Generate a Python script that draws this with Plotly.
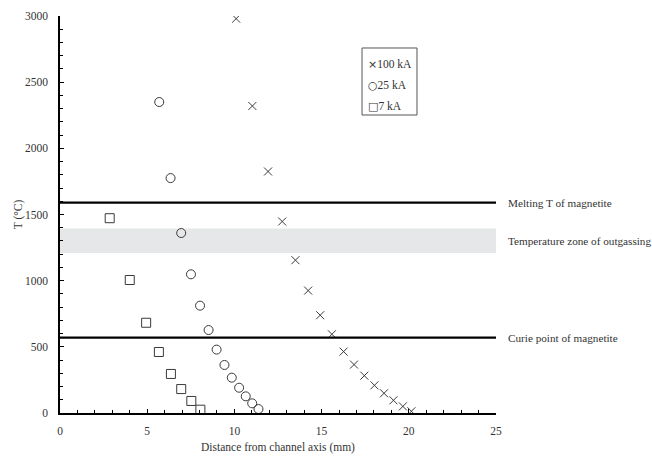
import plotly.graph_objects as go

# 100 kA series
x_100 = [10.1, 11.03, 11.93, 12.74, 13.5, 14.23, 14.92, 15.59, 16.26, 16.86, 17.45, 18.03, 18.58, 19.12, 19.66, 20.15]
t_100 = [2980, 2320, 1825, 1447, 1155, 925, 739, 595, 464, 366, 282, 209, 149, 96, 50, 13]

# 25 kA series
x_25 = [5.69, 6.34, 6.95, 7.51, 8.03, 8.52, 8.98, 9.43, 9.85, 10.27, 10.65, 11.02, 11.38]
t_25 = [2350, 1775, 1360, 1048, 811, 627, 479, 363, 267, 191, 126, 73, 30]

# 7 kA series
x_7 = [2.85, 4.0, 4.94, 5.67, 6.36, 6.95, 7.53, 8.05]
t_7 = [1472, 1005, 682, 461, 295, 181, 91, 25]

series_names = ["100 kA", "25 kA", "7 kA"]
legend_glyphs = ["\u00d7", "\u25cb", "\u25a1"]

MELTING_T = 1590
CURIE_T = 570
OUTGAS_LOW = 1210
OUTGAS_HIGH = 1395

FONT = "Liberation Serif"
TXT = "#333333"
MK = "#3a3a3a"

fig = go.Figure()
fig.add_trace(go.Scatter(x=x_100, y=t_100, mode="markers", name=series_names[0],
                         marker=dict(symbol="x-thin", size=8, line=dict(color=MK, width=1), color=MK)))
fig.add_trace(go.Scatter(x=x_25, y=t_25, mode="markers", name=series_names[1],
                         marker=dict(symbol="circle-open", size=9, line=dict(color=MK, width=1), color=MK)))
fig.add_trace(go.Scatter(x=x_7, y=t_7, mode="markers", name=series_names[2],
                         marker=dict(symbol="square-open", size=9, line=dict(color=MK, width=1), color=MK)))

fig.add_shape(type="rect", xref="x", yref="y", x0=0, x1=25, y0=OUTGAS_LOW, y1=OUTGAS_HIGH,
              fillcolor="#e6e7e8", line=dict(width=0), layer="below")
fig.add_shape(type="line", xref="x", yref="y", x0=0, x1=25, y0=MELTING_T, y1=MELTING_T,
              line=dict(color="black", width=2.2))
fig.add_shape(type="line", xref="x", yref="y", x0=0, x1=25, y0=CURIE_T, y1=CURIE_T,
              line=dict(color="black", width=2.2))

for yv, txt in [(MELTING_T, "Melting T of magnetite"),
                ((OUTGAS_LOW + OUTGAS_HIGH) / 2, "Temperature zone of outgassing"),
                (CURIE_T, "Curie point of magnetite")]:
    fig.add_annotation(x=1.0235, xref="paper", y=yv, yref="y", text=txt, showarrow=False,
                       xanchor="left", yanchor="middle", font=dict(family=FONT, size=11.2, color=TXT))

# legend box (text legend as in the reference)
fig.add_shape(type="rect", xref="paper", yref="paper", x0=0.6927, x1=0.8188, y0=0.7506, y1=0.9194,
              line=dict(color="#555555", width=1), fillcolor="white")
for i, (g, n) in enumerate(zip(legend_glyphs, series_names)):
    fig.add_annotation(x=0.7018, xref="paper", y=0.879 - i * 0.053, yref="paper",
                       text='<span style="font-family:DejaVu Sans;font-size:11px">' + g + "</span>" + n,
                       showarrow=False, xanchor="left", yanchor="middle",
                       font=dict(family=FONT, size=11.5, color=TXT))

fig.update_layout(
    width=652, height=456,
    margin=dict(l=60, r=156, t=16, b=43),
    paper_bgcolor="white", plot_bgcolor="white",
    font=dict(family=FONT, size=11.5, color=TXT),
    showlegend=False,
)
fig.update_xaxes(range=[0, 25], dtick=5, tick0=0, showgrid=False, zeroline=False,
                 showline=True, linecolor="black", linewidth=1.5, automargin=False,
                 ticks="inside", ticklen=4, tickcolor="black", tickwidth=1,
                 minor=dict(dtick=1, ticks="inside", ticklen=3, tickcolor="black", tickwidth=1),
                 ticklabelstandoff=6,
                 title=dict(text="Distance from channel axis (mm)", standoff=7,
                            font=dict(family=FONT, size=11.5, color=TXT)))
fig.update_yaxes(range=[0, 3000], dtick=500, tick0=0, showgrid=False, zeroline=False,
                 showline=True, linecolor="black", linewidth=1.5, automargin=False,
                 ticks="inside", ticklen=4, tickcolor="black", tickwidth=1,
                 minor=dict(dtick=100, ticks="inside", ticklen=3, tickcolor="black", tickwidth=1),
                 ticklabelstandoff=8,
                 title=dict(text="T (°C)", standoff=0,
                            font=dict(family=FONT, size=11.5, color=TXT)))

fig.write_html("out.html")
